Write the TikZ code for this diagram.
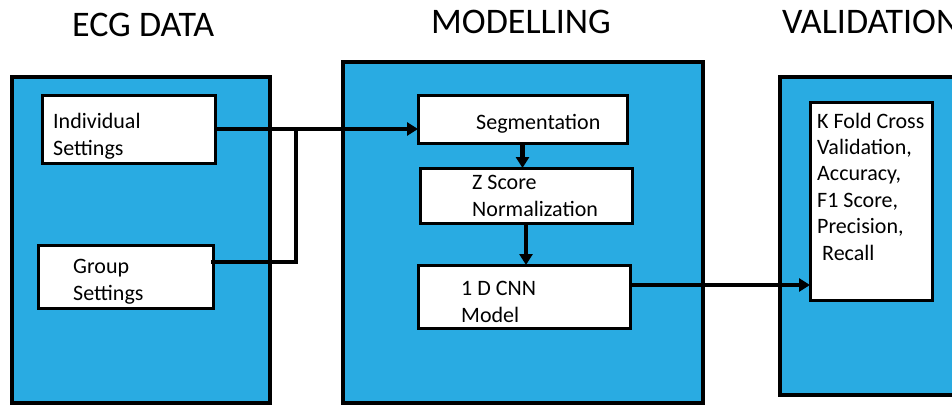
\documentclass[tikz,border=0pt]{standalone}
\usepackage{fontspec}
\setmainfont{Carlito}
\usetikzlibrary{arrows.meta}
\definecolor{panelblue}{RGB}{41,171,226}

\begin{document}
\begin{tikzpicture}[x=1pt,y=-1pt,
  panel/.style={draw=black, fill=panelblue, line width=4.5pt, anchor=north west,
    inner sep=0pt, outer sep=0pt},
  stepbox/.style={draw=black, fill=white, line width=3pt, anchor=north west,
    inner sep=0pt, outer sep=0pt},
  title/.style={anchor=base west, inner sep=0pt, font=\fontsize{36}{42}\selectfont},
  % labels are placed by the baseline of their last line
  label/.style={anchor=base west, inner sep=0pt, align=left,
    font=\fontsize{22}{26.4}\selectfont},
  conn/.style={draw=black, line width=4.2pt},
  tip/.style={-{Triangle[length=11pt,width=13pt]}}
]
\useasboundingbox (0,0) rectangle (952,405);
\clip (0,0) rectangle (952,405);

% stage headings
\node[title] (tdata) at (72,36) {ECG DATA};
\node[title] (tmodel) at (431,33) {MODELLING};
\node[title] (tvalid) at (782,33) {VALIDATION};

% stage panels
\node[panel, minimum width=258pt, minimum height=326pt] (pdata) at (12,77) {};
\node[panel, minimum width=360pt, minimum height=341pt] (pmodel) at (343,62) {};
\node[panel, minimum width=220pt, minimum height=318pt] (pvalid) at (780,77) {};

% data sources
\node[stepbox, minimum width=173pt, minimum height=68pt] (indiv) at (42,95) {};
\node[label] (tindiv) at (53,155) {Individual\\Settings};
\node[stepbox, minimum width=175pt, minimum height=63pt] (group) at (38,245) {};
\node[label] (tgroup) at (73,300) {Group\\Settings};

% modelling steps
\node[stepbox, minimum width=209pt, minimum height=48pt] (seg) at (418,95) {};
\node[label] (tseg) at (476,129) {Segmentation};
\node[stepbox, minimum width=212pt, minimum height=55pt] (zsc) at (420,168) {};
\node[label] (tzsc) at (472,216) {Z Score\\Normalization};
\node[stepbox, minimum width=212pt, minimum height=63pt] (cnn) at (418,265) {};
\node[label] (tcnn) at (461,322) {1 D CNN\\Model};

% validation metrics
\node[stepbox, minimum width=122pt, minimum height=198pt] (metrics) at (810,102) {};
\node[label] (tmetrics) at (817,260) {K Fold Cross\\Validation,\\Accuracy,\\F1 Score,\\Precision,\\\hspace*{5pt}Recall};

% connectors
\coordinate (merge) at (296,0);
\draw[conn, tip] (indiv.east) -- (indiv.east -| seg.west);
\draw[conn, line cap=rect] ([yshift=14.5pt]group.east) -| (merge |- indiv.east);
\draw[conn, tip] (seg.south) -- (seg.south |- zsc.north);
\draw[conn, tip] (zsc.south) -- (zsc.south |- cnn.north);
\draw[conn, tip] ([yshift=11.5pt]cnn.east) -- ([yshift=11.5pt]cnn.east -| metrics.west);
\end{tikzpicture}
\end{document}
